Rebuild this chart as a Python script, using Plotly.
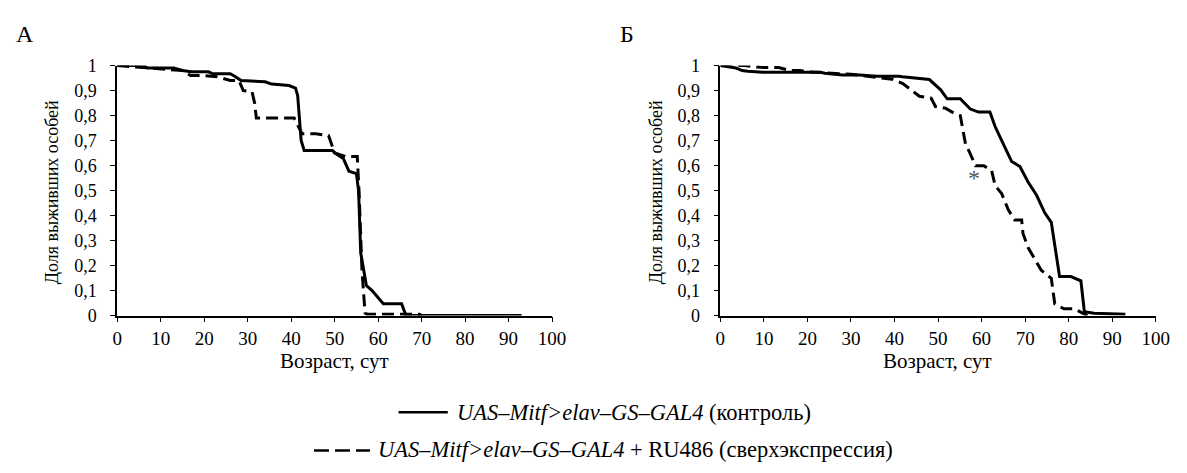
import plotly.graph_objects as go

W, H = 1187, 473

# ---- data: panel А ----
a_ctrl_age = [0, 6, 7, 13, 14, 15, 17, 21, 22, 26, 27, 28.5, 34, 35.5, 39.5, 41, 41.5, 42.3, 43,
              49.5, 50.5, 52, 53.3, 55, 55.5, 56, 57.3, 58.6, 61.2, 65.4, 66.4, 93]
a_ctrl_surv = [1, 1, 0.99, 0.99, 0.985, 0.98, 0.975, 0.975, 0.967, 0.967, 0.957, 0.94, 0.935, 0.926,
               0.92, 0.91, 0.88, 0.70, 0.66, 0.66, 0.645, 0.628, 0.577, 0.568, 0.50, 0.25, 0.12, 0.10,
               0.047, 0.047, 0, 0]
a_ru_age = [0, 15, 16.9, 20, 23, 26, 28, 29, 31, 31.6, 32, 40.7, 42.5, 45.7, 48.6, 49.5, 50, 52.5,
            55.2, 55.6, 56.3, 57, 57.5, 69.5, 70]
a_ru_surv = [1, 0.98, 0.96, 0.96, 0.955, 0.94, 0.94, 0.90, 0.895, 0.85, 0.79, 0.79, 0.727, 0.727,
             0.72, 0.68, 0.65, 0.636, 0.636, 0.50, 0.176, 0.01, 0.005, 0.005, 0]

# ---- data: panel Б ----
b_ctrl_age = [0, 2, 3.6, 5, 6.3, 9.7, 23, 24, 28, 32, 36, 41, 41.8, 48, 50.6, 52.1, 55.1, 57.4,
              59.3, 61.9, 63.1, 65, 66.9, 68.8, 70.7, 72.6, 74.5, 76, 76.8, 77.9, 80.5, 82.8, 83.6,
              85.8, 93]
b_ctrl_surv = [1, 0.995, 0.99, 0.98, 0.977, 0.973, 0.973, 0.969, 0.962, 0.962, 0.957, 0.957, 0.955,
               0.944, 0.903, 0.867, 0.867, 0.826, 0.814, 0.814, 0.756, 0.686, 0.616, 0.596, 0.533,
               0.482, 0.411, 0.373, 0.277, 0.156, 0.156, 0.139, 0.015, 0.009, 0.005]
b_ru_age = [0, 5.5, 7.6, 10, 13.4, 16, 18.4, 20, 30, 37, 39.5, 41.9, 43.4, 45.7, 48.4, 49.4, 51.7,
            53.6, 55.1, 55.5, 56.3, 57.4, 58.6, 60.5, 62.3, 63.1, 64.6, 66.1, 67.6, 69.2, 69.5, 70.7,
            72.2, 73.7, 76, 76.8, 78.9, 81.2, 84.3]
b_ru_surv = [1, 1, 0.995, 0.992, 0.992, 0.98, 0.98, 0.975, 0.965, 0.95, 0.945, 0.928, 0.909, 0.877,
             0.87, 0.836, 0.829, 0.81, 0.80, 0.76, 0.686, 0.647, 0.599, 0.599, 0.58, 0.52, 0.488,
             0.424, 0.382, 0.382, 0.328, 0.271, 0.226, 0.181, 0.149, 0.047, 0.027, 0.027, 0]

x_ticks = [0, 10, 20, 30, 40, 50, 60, 70, 80, 90, 100]
y_ticks = [0, 0.1, 0.2, 0.3, 0.4, 0.5, 0.6, 0.7, 0.8, 0.9, 1]
y_tick_text = ["0", "0,1", "0,2", "0,3", "0,4", "0,5", "0,6", "0,7", "0,8", "0,9", "1"]

star_age, star_surv = 58.2, 0.552

FONT = "Times New Roman, Liberation Serif, DejaVu Serif, serif"
SOLID = dict(color="black", width=3)
DASHED = dict(color="black", width=3, dash="12px,6px")

fig = go.Figure()
fig.add_trace(go.Scatter(x=a_ctrl_age, y=a_ctrl_surv, mode="lines", line=SOLID, xaxis="x", yaxis="y"))
fig.add_trace(go.Scatter(x=a_ru_age, y=a_ru_surv, mode="lines", line=DASHED, xaxis="x", yaxis="y"))
fig.add_trace(go.Scatter(x=b_ctrl_age, y=b_ctrl_surv, mode="lines", line=SOLID, xaxis="x2", yaxis="y2"))
fig.add_trace(go.Scatter(x=b_ru_age, y=b_ru_surv, mode="lines", line=DASHED, xaxis="x2", yaxis="y2"))

def px(v):
    return v / W

def py(v):
    return 1 - v / H

ydom = [py(319), py(58)]
ax_common = dict(range=[0, 100], tickvals=x_ticks, ticks="outside", ticklen=5, tickcolor="black",
                 showline=True, linecolor="black", linewidth=1.5, showgrid=False, zeroline=False,
                 tickfont=dict(family=FONT, size=19, color="black"), ticklabelstandoff=0,
                 fixedrange=True)
ay_common = dict(range=[0, 1], tickvals=y_ticks, ticktext=y_tick_text, ticks="outside", ticklen=5,
                 tickcolor="black", showline=True, linecolor="black", linewidth=1.5, showgrid=False,
                 zeroline=False, tickfont=dict(family=FONT, size=18, color="black"), domain=ydom,
                 ticklabelstandoff=10, fixedrange=True)

fig.update_layout(
    width=W, height=H, margin=dict(l=0, r=0, t=0, b=0),
    paper_bgcolor="white", plot_bgcolor="white", showlegend=False,
    xaxis=dict(domain=[px(114), px(556)], anchor="y", **ax_common),
    yaxis=dict(anchor="x", **ay_common),
    xaxis2=dict(domain=[px(727), px(1169.5)], anchor="y2", **ax_common),
    yaxis2=dict(anchor="x2", **ay_common),
    font=dict(family=FONT, color="black"),
)

ann = []
# panel letters
ann.append(dict(x=px(20), y=py(25), text="А", showarrow=False, xref="paper", yref="paper",
                font=dict(family=FONT, size=24), xanchor="center", yanchor="middle"))
ann.append(dict(x=px(632), y=py(25), text="Б", showarrow=False, xref="paper", yref="paper",
                font=dict(family=FONT, size=24), xanchor="center", yanchor="middle"))
# axis titles
for cx in (335, 948):
    ann.append(dict(x=px(cx), y=py(366), text="Возраст, сут", showarrow=False, xref="paper",
                    yref="paper", font=dict(family=FONT, size=21), xanchor="center", yanchor="middle"))
for cx in (48, 662):
    ann.append(dict(x=px(cx), y=py(190), text="Доля выживших особей", showarrow=False, textangle=-90,
                    xref="paper", yref="paper", font=dict(family=FONT, size=18),
                    xanchor="center", yanchor="middle"))
# asterisk
ann.append(dict(x=star_age, y=star_surv, xref="x2", yref="y2", text="*", showarrow=False,
                font=dict(family=FONT, size=24, color="#555555"), xanchor="center", yanchor="middle"))
# legend texts
ann.append(dict(x=px(457), y=py(420), xref="paper", yref="paper", showarrow=False, xanchor="left",
                yanchor="middle", text="<i>UAS–Mitf>elav–GS–GAL4</i> (контроль)",
                font=dict(family=FONT, size=22.5)))
ann.append(dict(x=px(377), y=py(459), xref="paper", yref="paper", showarrow=False, xanchor="left",
                yanchor="middle", text="<i>UAS–Mitf>elav–GS–GAL4</i> + RU486 (сверхэкспрессия)",
                font=dict(family=FONT, size=22.5)))
fig.update_layout(annotations=ann)

shapes = [
    dict(type="line", xref="paper", yref="paper", x0=px(400), x1=px(450), y0=py(420), y1=py(420),
         line=dict(color="black", width=2.5)),
    dict(type="line", xref="paper", yref="paper", x0=px(314), x1=px(371), y0=py(460), y1=py(460),
         line=dict(color="black", width=2.5, dash="15px,6px")),
]
fig.update_layout(shapes=shapes)

fig.write_html("out.html")
